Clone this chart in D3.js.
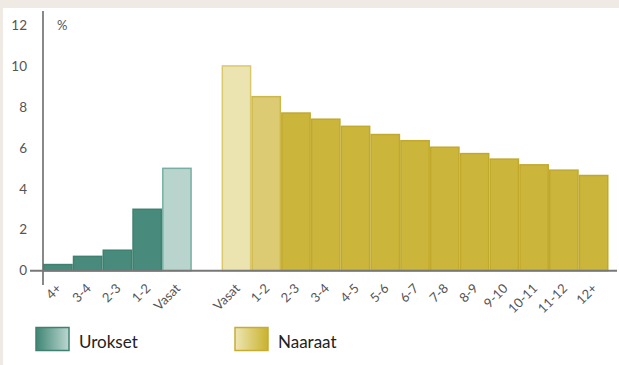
<!DOCTYPE html>
<html><head><meta charset="utf-8">
<script src="https://cdn.jsdelivr.net/npm/d3@7"></script>
<style>
html,body{margin:0;padding:0;background:#efebe4;}
svg{display:block;}
</style></head>
<body>
<script>
const maleCategories = ["4+","3-4","2-3","1-2","Vasat"];
const maleValues = [0.3, 0.7, 1.0, 3.0, 5.0];
const femaleCategories = ["Vasat","1-2","2-3","3-4","4-5","5-6","6-7","7-8","8-9","9-10","10-11","11-12","12+"];
const femaleValues = [10.0, 8.5, 7.7, 7.4, 7.05, 6.65, 6.35, 6.03, 5.72, 5.45, 5.17, 4.91, 4.65];
const yTicks = [0, 2, 4, 6, 8, 10, 12];
const legendLabels = ["Urokset", "Naaraat"];

const W = 619, H = 365;
const svg = d3.select("body").append("svg").attr("width", W).attr("height", H);

const defs = svg.append("defs");
const g1 = defs.append("linearGradient").attr("id","gm");
g1.append("stop").attr("offset","0%").attr("stop-color","#3f8574");
g1.append("stop").attr("offset","100%").attr("stop-color","#bcd7d0");
const g2 = defs.append("linearGradient").attr("id","gf");
g2.append("stop").attr("offset","0%").attr("stop-color","#eee6b4");
g2.append("stop").attr("offset","100%").attr("stop-color","#c9b22e");

// white panel
svg.append("rect").attr("x",3).attr("y",8).attr("width",W-3).attr("height",H-8).attr("fill","#ffffff");

const maleKeys = maleCategories.map(c => "m_" + c);
const femaleKeys = femaleCategories.map(c => "f_" + c);
const domain = [...maleKeys, "gap", ...femaleKeys];
const x = d3.scaleBand().domain(domain).range([43, 608.5]).padding(0);
const y = d3.scaleLinear().domain([0, 12]).range([270.7, 25]);

const font = "Lato, 'Open Sans', sans-serif";

// bars
const maleData = maleCategories.map((c,i)=>({key:"m_"+c,label:c,v:maleValues[i],
  fill: c==="Vasat" ? "#b8d4cd" : "#488b7c", stroke: c==="Vasat" ? "#77afa2" : "#3f8070"}));
const femaleData = femaleCategories.map((c,i)=>({key:"f_"+c,label:c,v:femaleValues[i],
  fill: c==="Vasat" ? "#ece4b0" : (c==="1-2" ? "#dccb72" : "#cbb53b"),
  stroke: c==="Vasat" ? "#dac96c" : (c==="1-2" ? "#ccb84a" : "#c1a92c")}));
const all = [...maleData, ...femaleData];

svg.append("g").selectAll("rect").data(all).join("rect")
  .attr("x", d => x(d.key) + 0.75)
  .attr("y", d => y(d.v))
  .attr("width", x.bandwidth() - 1.5)
  .attr("height", d => y(0) - y(d.v))
  .attr("fill", d => d.fill)
  .attr("stroke", d => d.stroke)
  .attr("stroke-width", 1.5);

// y axis
svg.append("line").attr("x1",43).attr("x2",43).attr("y1",11).attr("y2",285)
  .attr("stroke","#6b6b6b").attr("stroke-width",1.6);
svg.append("line").attr("x1",30).attr("x2",617).attr("y1",y(0)).attr("y2",y(0))
  .attr("stroke","#777777").attr("stroke-width",2);

svg.append("g").selectAll("text").data(yTicks).join("text")
  .attr("x", 27).attr("y", d => y(d)).attr("dy","0.35em")
  .attr("text-anchor","end").attr("font-family",font).attr("font-size",13.5)
  .attr("fill","#555").text(d => d);

svg.append("text").attr("x",57).attr("y",y(12)).attr("dy","0.35em")
  .attr("font-family",font).attr("font-size",13).attr("fill","#555").text("%");

// x labels
svg.append("g").selectAll("text").data(all).join("text")
  .attr("transform", d => `translate(${x(d.key) + x.bandwidth()/2 + 1},${286}) rotate(-45)`)
  .attr("text-anchor","end").attr("dy","0.35em")
  .attr("font-family",font).attr("font-size",13).attr("fill","#555")
  .text(d => d.label);

// legend
const leg = [{label:legendLabels[0], x:36, fill:"url(#gm)", stroke:"#3f8070"},
             {label:legendLabels[1], x:235, fill:"url(#gf)", stroke:"#c4ad33"}];
const lg = svg.append("g").selectAll("g").data(leg).join("g");
lg.append("rect").attr("x", d => d.x).attr("y",327.5).attr("width",33).attr("height",23)
  .attr("fill", d => d.fill).attr("stroke", d => d.stroke).attr("stroke-width",1.5);
lg.append("text").attr("x", d => d.x + 43).attr("y",348)
  .attr("font-family",font).attr("font-size",17).attr("fill","#222").text(d => d.label);
</script>
</body></html>
